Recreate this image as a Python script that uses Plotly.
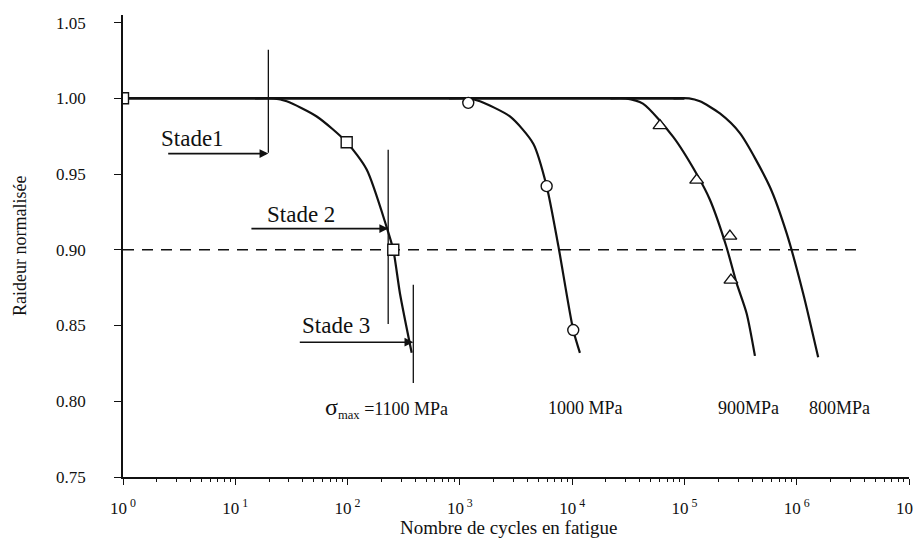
import numpy as np
import plotly.graph_objects as go

# ---- data ----
# common plateau (normalised stiffness = 1.00)
n_plateau = [1, 100000]
r_plateau = [1.000, 1.000]

# 1100 MPa curve
n_1100 = [15, 22, 28.7, 53.1, 98.2, 147.9, 222.8, 255.3, 293.1, 372.4]
r_1100 = [1.000, 1.000, 0.998, 0.988, 0.971, 0.953, 0.915, 0.900, 0.871, 0.832]
n_1100_pts = [1, 98.2, 255.3]
r_1100_pts = [1.000, 0.971, 0.900]

# 1000 MPa curve
n_1000 = [800, 1188, 1510, 2793, 4508, 5929, 7516, 10230, 11730]
r_1000 = [1.000, 1.000, 0.998, 0.988, 0.970, 0.942, 0.903, 0.847, 0.832]
n_1000_pts = [1188, 5929, 10230]
r_1000_pts = [0.997, 0.942, 0.847]

# 900 MPa curve
n_900 = [22000, 30000, 42680, 79430, 128500, 168700, 234300, 291700, 358100, 424600]
r_900 = [1.000, 1.000, 0.9965, 0.9745, 0.950, 0.933, 0.903, 0.878, 0.858, 0.830]
n_900_pts = [60530, 128500, 254100, 259400]
r_900_pts = [0.982, 0.946, 0.909, 0.880]

# 800 MPa curve
n_800 = [80000, 110000, 137400, 207000, 311900, 577200, 812800, 1143000, 1553000]
r_800 = [1.000, 1.000, 0.998, 0.990, 0.977, 0.9415, 0.911, 0.871, 0.829]

# 0.90 criterion line
n_crit = [1, 3.41e6]
r_crit = [0.90, 0.90]

# stage markers
stage_names = ["Stade1", "Stade 2", "Stade 3"]
stage_n = [19.7, 230, 385]
stage_top = [1.032, 0.966, 0.877]
stage_bot = [0.964, 0.851, 0.812]
arrow_r = [0.9635, 0.914, 0.839]
arrow_tail_n = [2.45, 13.5, 36.4]
stage_label_n = [4.2, 38.5, 78.9]
stage_label_r = [0.9736, 0.9235, 0.850]

# curve labels
curve_labels = ["<span style='font-size:24px'>σ</span><sub>max</sub> =1100 MPa",
                "1000 MPa", "900MPa", "800MPa"]
curve_label_n = [220, 13200, 370000, 2.4e6]
curve_label_r = [0.7955, 0.7955, 0.7955, 0.7955]

x_tickvals = [1, 10, 100, 1e3, 1e4, 1e5, 1e6, 1e7]
x_ticktext = ["10<sup> 0</sup>", "10<sup> 1</sup>", "10<sup> 2</sup>", "10<sup> 3</sup>",
              "10<sup> 4</sup>", "10<sup> 5</sup>", "10<sup> 6</sup>", "10<sup> 7</sup>"]
y_tickvals = [0.75, 0.80, 0.85, 0.90, 0.95, 1.00, 1.05]
y_ticktext = ["0.75", "0.80", "0.85", "0.90", "0.95", "1.00", "1.05"]

FONT = "Liberation Serif, Times New Roman, serif"
INK = "#111111"

fig = go.Figure()

# criterion dashed line
fig.add_trace(go.Scatter(x=n_crit, y=r_crit, mode="lines",
                         line=dict(color=INK, width=1.6, dash="11px,8px"),
                         hoverinfo="skip", showlegend=False))

# plateau
fig.add_trace(go.Scatter(x=n_plateau, y=r_plateau, mode="lines",
                         line=dict(color=INK, width=2.8), showlegend=False))

for n, r in [(n_800, r_800), (n_900, r_900), (n_1000, r_1000), (n_1100, r_1100)]:
    fig.add_trace(go.Scatter(x=n, y=r, mode="lines",
                             line=dict(color=INK, width=2.2, shape="spline", smoothing=0.7),
                             showlegend=False))

# stage vertical lines
for sn, st, sb in zip(stage_n, stage_top, stage_bot):
    fig.add_trace(go.Scatter(x=[sn, sn], y=[st, sb], mode="lines",
                             line=dict(color=INK, width=1.3), showlegend=False,
                             hoverinfo="skip"))

# markers
fig.add_trace(go.Scatter(x=n_1100_pts, y=r_1100_pts, mode="markers",
                         marker=dict(symbol="square", size=11, color="white",
                                     line=dict(color=INK, width=1.4)), showlegend=False))
fig.add_trace(go.Scatter(x=n_1000_pts, y=r_1000_pts, mode="markers",
                         marker=dict(symbol="circle", size=11, color="white",
                                     line=dict(color=INK, width=1.4)), showlegend=False))
fig.add_trace(go.Scatter(x=n_900_pts, y=r_900_pts, mode="markers",
                         marker=dict(symbol="triangle-up", size=12, color="white",
                                     line=dict(color=INK, width=1.4)), showlegend=False))

annotations = []
for name, ln, lr, an, ar, tn in zip(stage_names, stage_label_n, stage_label_r,
                                    stage_n, arrow_r, arrow_tail_n):
    annotations.append(dict(x=np.log10(ln), y=lr, xref="x", yref="y", text=name,
                            showarrow=False, font=dict(family=FONT, size=23, color=INK)))
    annotations.append(dict(x=np.log10(an), y=ar, xref="x", yref="y", text="",
                            showarrow=True, axref="x", ayref="y",
                            ax=np.log10(tn), ay=ar, arrowhead=2, arrowsize=1.1,
                            arrowwidth=1.6, arrowcolor=INK))

for txt, cn, cr in zip(curve_labels, curve_label_n, curve_label_r):
    annotations.append(dict(x=np.log10(cn), y=cr, xref="x", yref="y", text=txt,
                            showarrow=False, font=dict(family=FONT, size=18, color=INK)))

annotations.append(dict(x=-0.131, y=0.50, xref="paper", yref="paper",
                        xanchor="center", yanchor="middle",
                        text="Raideur normalisée", textangle=-90, showarrow=False,
                        font=dict(family=FONT, size=18, color=INK)))
annotations.append(dict(x=0.49, y=-0.110, xref="paper", yref="paper",
                        xanchor="center", yanchor="middle",
                        text="Nombre de cycles en fatigue", showarrow=False,
                        font=dict(family=FONT, size=19, color=INK)))

minor_vals = [k * 10 ** d for d in range(7) for k in range(2, 10)]

fig.update_layout(
    width=915, height=543,
    margin=dict(l=123, r=6, t=15, b=66),
    paper_bgcolor="white", plot_bgcolor="white",
    font=dict(family=FONT, color=INK),
    annotations=annotations,
    xaxis=dict(type="log", range=[0, 7], showline=True, linecolor=INK, linewidth=1.5,
               ticks="outside", ticklen=6, tickwidth=1.3, tickcolor=INK,
               tickvals=x_tickvals, ticktext=x_ticktext,
               tickfont=dict(family=FONT, size=17, color=INK),
               ticklabelstandoff=9, ticklabeloverflow="allow",
               showgrid=False, zeroline=False, automargin=False,
               minor=dict(tickvals=minor_vals, ticks="outside", ticklen=3,
                          tickwidth=1, tickcolor=INK, showgrid=False)),
    yaxis=dict(range=[0.75, 1.055], showline=True, linecolor=INK, linewidth=1.5,
               ticks="outside", ticklen=7, tickwidth=1.3, tickcolor=INK,
               tickvals=y_tickvals, ticktext=y_ticktext,
               tickfont=dict(family=FONT, size=17, color=INK),
               ticklabelstandoff=25, automargin=False,
               showgrid=False, zeroline=False),
)

fig.write_html("out.html", config={"displayModeBar": False},
               post_script="document.body.style.margin='0';document.body.style.overflow='hidden';")
